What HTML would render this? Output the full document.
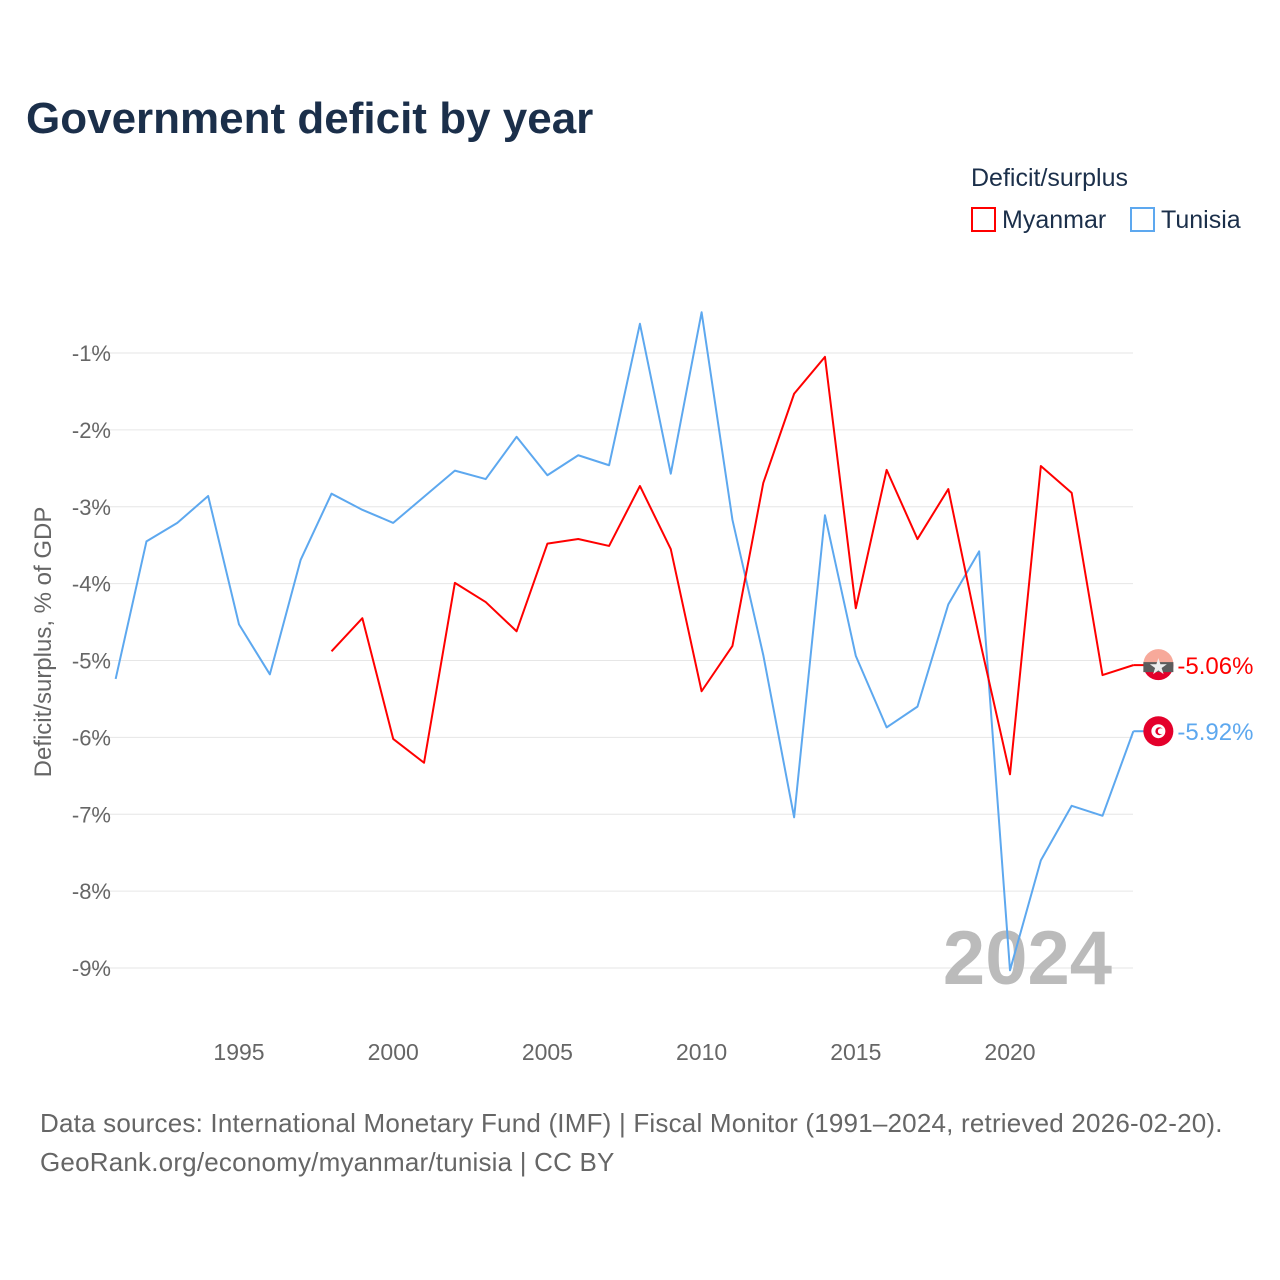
<!DOCTYPE html>
<html><head><meta charset="utf-8">
<style>
body{margin:0;background:#fff;font-family:"Liberation Sans",sans-serif;}
#wrap{position:relative;width:1280px;height:1280px;overflow:hidden;}
</style></head>
<body>
<div id="wrap">
<svg id="chart" width="1280" height="1280">
<text x="26" y="133" font-size="44" font-weight="bold" fill="#1b2f4a">Government deficit by year</text>
<text x="971" y="186" font-size="25" fill="#1b2f4a">Deficit/surplus</text>
<g>
<rect x="972" y="208" width="23" height="23" fill="none" stroke="#f00" stroke-width="2"/>
<text x="1002" y="228" font-size="25" fill="#1b2f4a">Myanmar</text></g>
<g>
<rect x="1131" y="208" width="23" height="23" fill="none" stroke="#5da8ef" stroke-width="2"/>
<text x="1161" y="228" font-size="25" fill="#1b2f4a">Tunisia</text></g>
<text transform="translate(51,642) rotate(-90)" text-anchor="middle" font-size="24" fill="#666">Deficit/surplus, % of GDP</text>
<g id="grid"></g><g id="xt"></g>
<text x="1112" y="984" text-anchor="end" font-size="76" font-weight="bold" fill="#bbb">2024</text>
<g id="series"></g>
<text x="40" y="1132" font-size="26" letter-spacing="0.2" fill="#666">Data sources: International Monetary Fund (IMF) | Fiscal Monitor (1991–2024, retrieved 2026-02-20).</text>
<text x="40" y="1171" font-size="26" letter-spacing="0.2" fill="#666">GeoRank.org/economy/myanmar/tunisia | CC BY</text>
</svg></div>
<script>
const yTicks=[-1,-2,-3,-4,-5,-6,-7,-8,-9];
const xTicks=[1995,2000,2005,2010,2015,2020];
const tunisiaYears=[1991,1992,1993,1994,1995,1996,1997,1998,1999,2000,2001,2002,2003,2004,2005,2006,2007,2008,2009,2010,2011,2012,2013,2014,2015,2016,2017,2018,2019,2020,2021,2022,2023,2024];
const tunisiaValues=[-5.24,-3.45,-3.21,-2.86,-4.53,-5.18,-3.69,-2.83,-3.04,-3.21,-2.87,-2.53,-2.64,-2.09,-2.59,-2.33,-2.46,-0.62,-2.57,-0.47,-3.17,-4.93,-7.04,-3.11,-4.94,-5.87,-5.60,-4.27,-3.58,-9.03,-7.60,-6.89,-7.02,-5.92];
const myanmarYears=[1998,1999,2000,2001,2002,2003,2004,2005,2006,2007,2008,2009,2010,2011,2012,2013,2014,2015,2016,2017,2018,2019,2020,2021,2022,2023,2024];
const myanmarValues=[-4.88,-4.45,-6.02,-6.33,-3.99,-4.24,-4.62,-3.48,-3.42,-3.51,-2.73,-3.55,-5.40,-4.81,-2.69,-1.53,-1.05,-4.32,-2.52,-3.42,-2.77,-4.7,-6.48,-2.47,-2.82,-5.19,-5.06];
const NS="http://www.w3.org/2000/svg";
const X=y=>239+(y-1995)*30.84;
const Y=v=>353+(-1-v)*76.875;
function mk(t,a,p){const e=document.createElementNS(NS,t);for(const k in a)e.setAttribute(k,a[k]);p.appendChild(e);return e;}
const grid=document.getElementById('grid');
yTicks.forEach(v=>{
 const l=mk('line',{x1:90,x2:1133,y1:Y(v),y2:Y(v),stroke:'#e6e6e6','stroke-width':1},grid);
 
 
 const t=mk('text',{x:111,y:Y(v)+8,'text-anchor':'end','font-size':22,fill:'#666'},grid);
 t.textContent=v+'%';
 
 
});
const xt=document.getElementById('xt');
xTicks.forEach(y=>{
 const t=mk('text',{x:X(y),y:1060,'text-anchor':'middle','font-size':23,fill:'#666'},xt);
 t.textContent=y;
 
 
});
const S=document.getElementById('series');
function line(ys,vs,c,name){
 const p=mk('polyline',{points:ys.map((y,i)=>X(y)+','+Y(vs[i])).join(' '),fill:'none',stroke:c,'stroke-width':2,'stroke-linejoin':'round'},S);
 
 
 const lv=vs[vs.length-1],cy=Y(lv),cx=X(ys[ys.length-1])+25;
 mk('line',{x1:X(ys[ys.length-1]),x2:cx-14,y1:cy,y2:cy,stroke:c,'stroke-width':2},S);
 const g=mk('g',{},S);
 
 
 if(name==='myanmar'){
  mk('circle',{cx:cx,cy:cy,r:15,fill:'#e4002b'},g);
  mk('path',{d:`M${cx-15},${cy-1} A15,15 0 0 1 ${cx+15},${cy-1} Z`,fill:'#f7a99a'},g);
  mk('rect',{x:cx-15,y:cy-3,width:30,height:10,fill:'#5c5c5c'},g);
  const st=mk('text',{x:cx,y:cy+9,'text-anchor':'middle','font-size':22,fill:'#eee'},g);st.textContent='★';
 }else{
  mk('circle',{cx:cx,cy:cy,r:15,fill:'#e4002b'},g);
  mk('circle',{cx:cx,cy:cy,r:7,fill:'#fff'},g);
  mk('circle',{cx:cx+1,cy:cy,r:4,fill:'#e4002b'},g);
  mk('circle',{cx:cx+2.5,cy:cy,r:3,fill:'#fff'},g);
 }
 const t=mk('text',{x:cx+19,y:cy+9,'font-size':24,fill:c},S);
 t.textContent=lv.toFixed(2)+'%';
 
 
}
line(tunisiaYears,tunisiaValues,'#5da8ef','tunisia');
line(myanmarYears,myanmarValues,'#f00','myanmar');
</script>
</body></html>
